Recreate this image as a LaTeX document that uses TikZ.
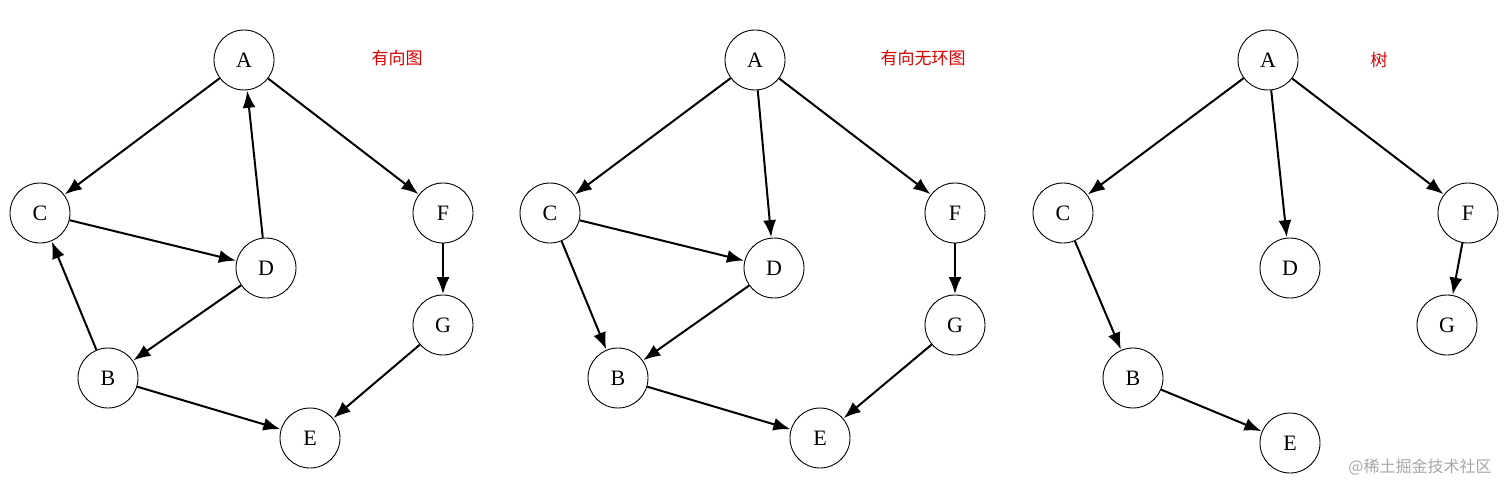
\documentclass[tikz,border=0pt]{standalone}
\usepackage{fontspec}
\setmainfont{Liberation Serif}
\newfontfamily\cjk{Noto Sans CJK SC}
\usetikzlibrary{arrows.meta}
\tikzset{
  vtx/.style={circle,draw,line width=0.9pt,minimum size=60pt,inner sep=0pt,font=\fontsize{22}{22}\selectfont},
  edge/.style={line width=2pt,-{Latex[length=17pt,width=13pt]},shorten >=0.5pt},
  ttl/.style={font=\cjk\fontsize{17}{17}\selectfont,text=red!85!black},
}
\begin{document}
\begin{tikzpicture}[x=1pt,y=-1pt]
\useasboundingbox (0,0) rectangle (1512,495);
% Graph 1
\node[vtx] (a1) at (244,60) {A};
\node[vtx] (c1) at (40,213) {C};
\node[vtx] (d1) at (266,268) {D};
\node[vtx] (f1) at (443,213) {F};
\node[vtx] (g1) at (443,325) {G};
\node[vtx] (b1) at (108,378) {B};
\node[vtx] (e1) at (310,438) {E};
\node[ttl] (t1) at (397,58) {有向图};
\draw[edge] (a1) -- (c1);
\draw[edge] (d1) -- (a1);
\draw[edge] (a1) -- (f1);
\draw[edge] (c1) -- (d1);
\draw[edge] (d1) -- (b1);
\draw[edge] (b1) -- (c1);
\draw[edge] (f1) -- (g1);
\draw[edge] (g1) -- (e1);
\draw[edge] (b1) -- (e1);
% Graph 2
\node[vtx] (a2) at (755,60) {A};
\node[vtx] (c2) at (550,213) {C};
\node[vtx] (d2) at (774,268) {D};
\node[vtx] (f2) at (955,213) {F};
\node[vtx] (g2) at (955,325) {G};
\node[vtx] (b2) at (618,378) {B};
\node[vtx] (e2) at (820,438) {E};
\node[ttl] (t2) at (923,58) {有向无环图};
\draw[edge] (a2) -- (c2);
\draw[edge] (a2) -- (d2);
\draw[edge] (a2) -- (f2);
\draw[edge] (c2) -- (d2);
\draw[edge] (c2) -- (b2);
\draw[edge] (d2) -- (b2);
\draw[edge] (f2) -- (g2);
\draw[edge] (g2) -- (e2);
\draw[edge] (b2) -- (e2);
% Graph 3
\node[vtx] (a3) at (1268,60) {A};
\node[vtx] (c3) at (1063,213) {C};
\node[vtx] (d3) at (1290,268) {D};
\node[vtx] (f3) at (1468,213) {F};
\node[vtx] (g3) at (1447,325) {G};
\node[vtx] (b3) at (1133,378) {B};
\node[vtx] (e3) at (1290,443) {E};
\node[ttl] (t3) at (1379,60) {树};
\draw[edge] (a3) -- (c3);
\draw[edge] (a3) -- (d3);
\draw[edge] (a3) -- (f3);
\draw[edge] (c3) -- (b3);
\draw[edge] (f3) -- (g3);
\draw[edge] (b3) -- (e3);
% watermark
\node[font=\cjk\fontsize{16}{16}\selectfont,text=black!35] (wm) at (1420,467) {@稀土掘金技术社区};
\end{tikzpicture}
\end{document}
